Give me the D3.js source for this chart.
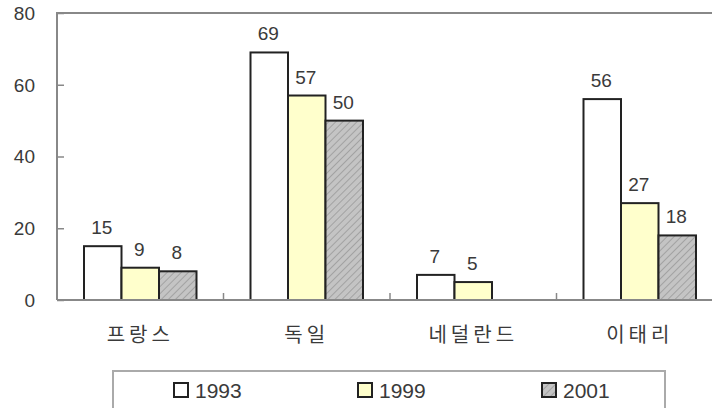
<!DOCTYPE html>
<html><head><meta charset="utf-8">
<script src="https://cdn.jsdelivr.net/npm/d3@7"></script>
<style>html,body{margin:0;padding:0;background:#fff;}svg{display:block;}</style>
</head><body>
<svg id="c" width="712" height="408"></svg>
<script>
const categories = ["프랑스", "독일", "네덜란드", "이태리"];
const seriesNames = ["1993", "1999", "2001"];
const values1993 = [15, 69, 7, 56];
const values1999 = [9, 57, 5, 27];
const values2001 = [8, 50, null, 18];
const yTicks = [0, 20, 40, 60, 80];

const seriesValues = [values1993, values1999, values2001];
const fills = ["#ffffff", "#ffffcc", "url(#hatch)"];

const svg = d3.select("#c");
const defs = svg.append("defs");
const pat = defs.append("pattern").attr("id", "hatch").attr("patternUnits", "userSpaceOnUse")
  .attr("width", 5).attr("height", 5).attr("patternTransform", "rotate(-45)");
pat.append("rect").attr("width", 5).attr("height", 5).attr("fill", "#c4c4c4");
pat.append("line").attr("x1", 0).attr("y1", 0).attr("x2", 5).attr("y2", 0)
  .attr("stroke", "#9a9a9a").attr("stroke-width", 1.6);

const pLeft = 57, pRight = 723, pTop = 13, pBottom = 300;
const y = d3.scaleLinear().domain([0, 80]).range([pBottom, pTop]);
const x0 = d3.scaleBand().domain(categories).range([pLeft, pRight]).paddingInner(0).paddingOuter(0);
const x1 = d3.scaleBand().domain(seriesNames).range([0, x0.bandwidth()]).paddingInner(0).paddingOuter(0.72);

const axisColor = "#888";
const textColor = "#3a3a3a";

// top border
svg.append("line").attr("x1", pLeft).attr("x2", 712).attr("y1", pTop).attr("y2", pTop)
  .attr("stroke", axisColor).attr("stroke-width", 2);

// y axis
const yAxis = d3.axisRight(y).tickValues(yTicks).tickSize(7).tickFormat("");
const gy = svg.append("g").attr("transform", `translate(${pLeft},0)`).call(yAxis);
gy.select(".domain").remove();
gy.selectAll(".tick line").attr("stroke", axisColor).attr("stroke-width", 1.5);
svg.append("line").attr("x1", pLeft).attr("x2", pLeft).attr("y1", pTop - 1).attr("y2", pBottom)
  .attr("stroke", axisColor).attr("stroke-width", 2);
svg.append("g").selectAll("text").data(yTicks).join("text")
  .attr("x", 35).attr("y", d => y(d)).attr("dy", "0.36em")
  .attr("text-anchor", "end").attr("fill", textColor)
  .style("font-family", "Arial, 'Liberation Sans', sans-serif").style("font-size", "19px")
  .text(d => d);

// bars
const rows = (c, i) => seriesNames.map((s, j) => ({s, j, v: seriesValues[j][i]})).filter(d => d.v != null);
const groups = svg.append("g").selectAll("g").data(categories).join("g")
  .attr("transform", d => `translate(${x0(d)},0)`);
groups.selectAll("rect").data(rows).join("rect")
  .attr("x", d => x1(d.s)).attr("width", x1.bandwidth())
  .attr("y", d => y(d.v)).attr("height", d => y(0) - y(d.v))
  .attr("fill", d => fills[d.j]).attr("stroke", "#222").attr("stroke-width", 2);
groups.selectAll("text").data(rows).join("text")
  .attr("x", d => x1(d.s) + x1.bandwidth() / 2 - 1).attr("y", d => y(d.v) - 12)
  .attr("text-anchor", "middle").attr("fill", textColor)
  .style("font-family", "Arial, 'Liberation Sans', sans-serif").style("font-size", "19px")
  .text(d => d.v);

// x axis baseline + ticks
svg.append("line").attr("x1", pLeft).attr("x2", 712).attr("y1", pBottom).attr("y2", pBottom)
  .attr("stroke", axisColor).attr("stroke-width", 2);
svg.append("g").selectAll("line").data(categories.slice(1)).join("line")
  .attr("x1", d => x0(d)).attr("x2", d => x0(d)).attr("y1", pBottom).attr("y2", pBottom - 7)
  .attr("stroke", axisColor).attr("stroke-width", 1.5);
svg.append("g").selectAll("text").data(categories).join("text")
  .attr("x", d => x0(d) + x0.bandwidth() / 2).attr("y", 342)
  .attr("text-anchor", "middle").attr("fill", textColor)
  .style("font-family", "'Noto Sans CJK KR', sans-serif").style("font-size", "20px")
  .style("letter-spacing", "4px")
  .text(d => d);

// legend
svg.append("rect").attr("x", 113).attr("y", 371).attr("width", 552).attr("height", 50)
  .attr("fill", "#fff").attr("stroke", "#aaa").attr("stroke-width", 2);
const lx = d3.scalePoint().domain(seriesNames).range([174, 542]);
const lg = svg.append("g").selectAll("g").data(seriesNames).join("g")
  .attr("transform", d => `translate(${lx(d)},383)`);
lg.append("rect").attr("width", 14).attr("height", 14)
  .attr("fill", (d, i) => fills[i]).attr("stroke", "#222").attr("stroke-width", 2);
lg.append("text").attr("x", 21).attr("y", 14.5).attr("fill", textColor)
  .style("font-family", "Arial, 'Liberation Sans', sans-serif").style("font-size", "21px")
  .text(d => d);
</script>
</body></html>
